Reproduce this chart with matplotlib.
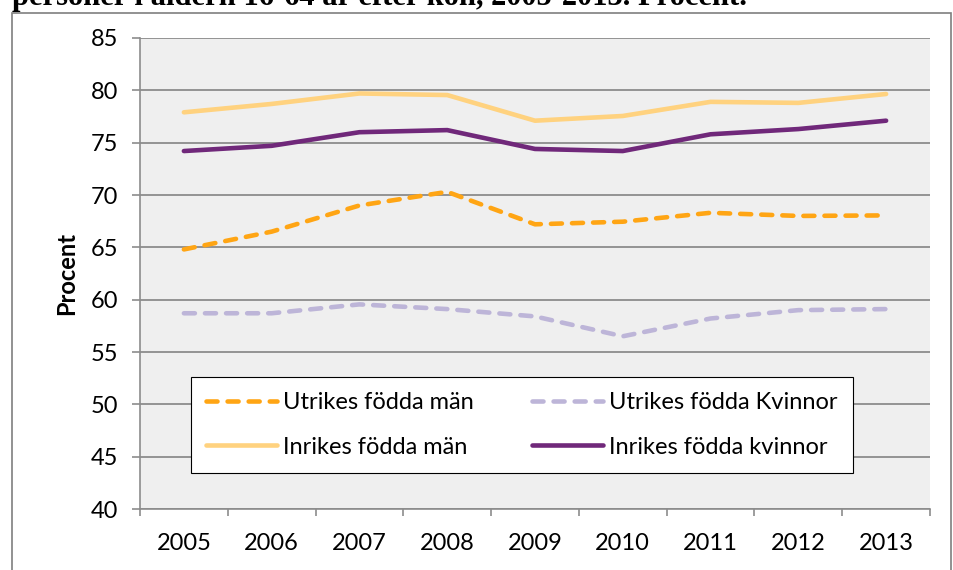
import numpy as np
import matplotlib.pyplot as plt
from matplotlib.patches import Rectangle

years = ["2005", "2006", "2007", "2008", "2009", "2010", "2011", "2012", "2013"]
utrikes_man = [64.8, 66.5, 69.0, 70.3, 67.2, 67.45, 68.3, 68.0, 68.05]
utrikes_kvinnor = [58.7, 58.7, 59.55, 59.1, 58.4, 56.5, 58.2, 59.0, 59.1]
inrikes_man = [77.9, 78.7, 79.7, 79.55, 77.1, 77.55, 78.9, 78.8, 79.65]
inrikes_kvinnor = [74.2, 74.7, 76.0, 76.2, 74.4, 74.2, 75.8, 76.3, 77.1]

plt.rcParams['font.family'] = ['Lato', 'DejaVu Sans']

W, H = 954, 570
fig = plt.figure(figsize=(W / 100, H / 100), dpi=100)

# outer frame and cut-off title
fig.patches.append(Rectangle((12 / W, -0.1), (951 - 12) / W, 1.1 - 13 / H,
                             transform=fig.transFigure, fill=False,
                             edgecolor='#7f7f7f', linewidth=1.2))
fig.text(12 / W, 1 - 5 / H, "personer i åldern 16-64 år efter kön, 2005-2013. Procent.",
         family='Liberation Serif', fontweight='bold', fontsize=22,
         va='baseline', ha='left')

ax = fig.add_axes([140 / W, 1 - 509 / H, (930 - 140) / W, (509 - 38) / H])
ax.set_facecolor('#efefef')

x = np.arange(len(years))
lw = 3.3
ax.plot(x, utrikes_man, color='#ffa514', lw=lw, dashes=(2.4, 2.2),
        dash_capstyle='round', label='Utrikes födda män')
ax.plot(x, inrikes_man, color='#ffd27f', lw=lw, solid_capstyle='round',
        label='Inrikes födda män')
ax.plot(x, utrikes_kvinnor, color='#bdb5d8', lw=lw, dashes=(2.4, 2.2),
        dash_capstyle='round', label='Utrikes födda Kvinnor')
ax.plot(x, inrikes_kvinnor, color='#70287a', lw=lw, solid_capstyle='round',
        label='Inrikes födda kvinnor')

ax.set_xlim(-0.5, len(years) - 0.5)
ax.set_ylim(40, 85)
ax.set_yticks(np.arange(40, 86, 5))
ax.yaxis.grid(True, color='#8c8c8c', linewidth=1.3)
ax.set_axisbelow(True)

ax.set_xticks(np.arange(-0.5, len(years), 1))
ax.set_xticklabels([])
ax.set_xticks(x, minor=True)
ax.set_xticklabels(years, minor=True)
ax.tick_params(axis='x', which='major', length=5, color='#8c8c8c', width=1.2)
ax.tick_params(axis='x', which='minor', length=0, pad=17, labelsize=17)
ax.tick_params(axis='y', length=6, color='#8c8c8c', width=1.2, pad=10, labelsize=17)

for s in ['top', 'right']:
    ax.spines[s].set_visible(False)
for s in ['left', 'bottom']:
    ax.spines[s].set_color('#8c8c8c')
    ax.spines[s].set_linewidth(1.2)

ax.set_ylabel('Procent', fontweight='bold', fontsize=17, labelpad=9)

h, l = ax.get_legend_handles_labels()
leg = ax.legend(h, l, ncol=2, loc='lower left', mode='expand',
                bbox_to_anchor=(0.0646, 0.0764, 0.838, 0.2), borderaxespad=0,
                fancybox=False, edgecolor='black', framealpha=1,
                fontsize=17, handlelength=3.0, handletextpad=0.25,
                labelspacing=1.0, borderpad=0.65)
leg.get_frame().set_linewidth(0.8)

fig.savefig('out.png', dpi=100)
